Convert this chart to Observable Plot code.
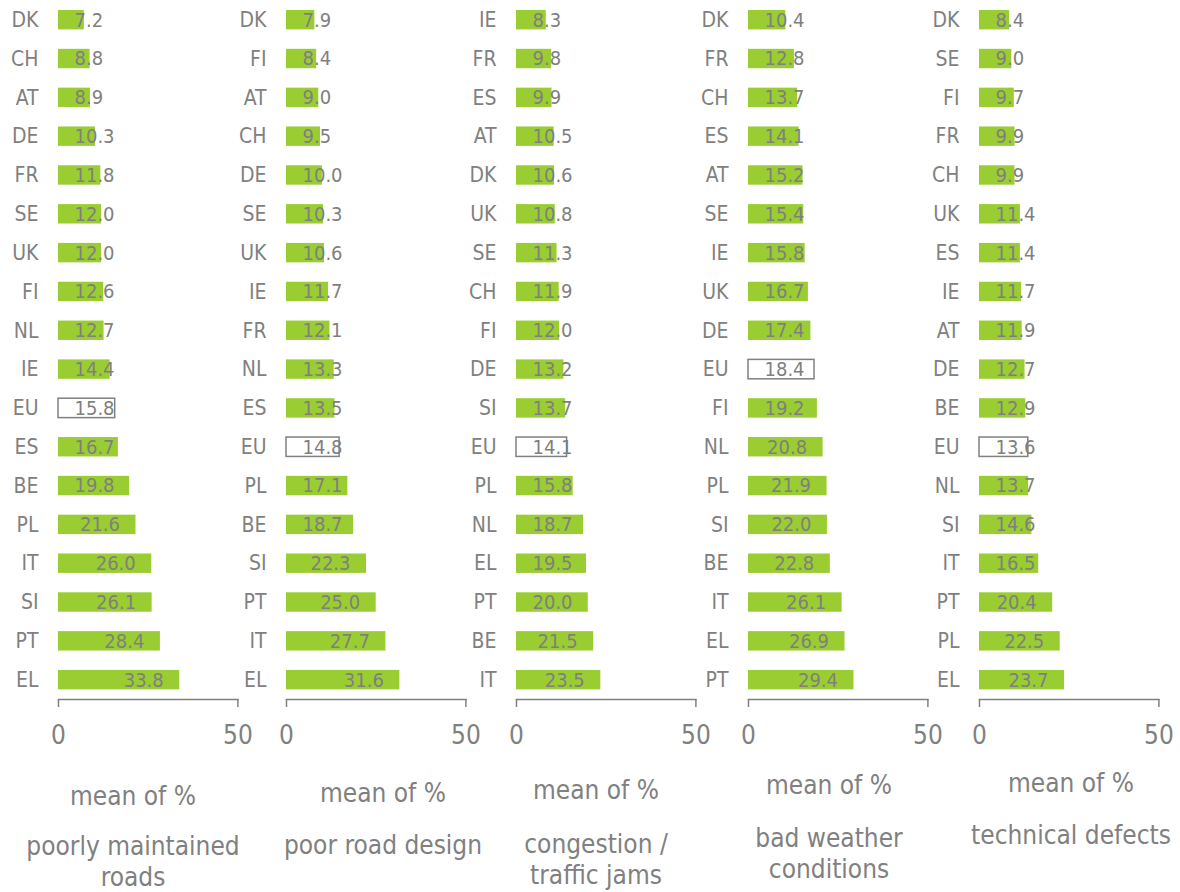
<!DOCTYPE html>
<html><head><meta charset="utf-8">
<script src="https://cdn.jsdelivr.net/npm/d3@7"></script>
<script src="https://cdn.jsdelivr.net/npm/@observablehq/plot@0.6"></script>
<style>
body{margin:0;background:#fff;}
#chart{position:relative;width:1180px;height:892px;overflow:hidden;font-family:"DejaVu Sans Condensed","DejaVu Sans",sans-serif;}
.panel{position:absolute;top:0;}
.panel svg{overflow:visible;max-width:none;}
.lab{position:absolute;transform:translateX(-50%);text-align:center;white-space:nowrap;color:#808080;font-size:26px;line-height:31px;}
</style></head><body><div id="chart"></div>
<script>
// ---- data ----
const roadsCountries  = ["DK","CH","AT","DE","FR","SE","UK","FI","NL","IE","EU","ES","BE","PL","IT","SI","PT","EL"];
const roadsValues     = [7.2,8.8,8.9,10.3,11.8,12.0,12.0,12.6,12.7,14.4,15.8,16.7,19.8,21.6,26.0,26.1,28.4,33.8];
const designCountries = ["DK","FI","AT","CH","DE","SE","UK","IE","FR","NL","ES","EU","PL","BE","SI","PT","IT","EL"];
const designValues    = [7.9,8.4,9.0,9.5,10.0,10.3,10.6,11.7,12.1,13.3,13.5,14.8,17.1,18.7,22.3,25.0,27.7,31.6];
const congCountries   = ["IE","FR","ES","AT","DK","UK","SE","CH","FI","DE","SI","EU","PL","NL","EL","PT","BE","IT"];
const congValues      = [8.3,9.8,9.9,10.5,10.6,10.8,11.3,11.9,12.0,13.2,13.7,14.1,15.8,18.7,19.5,20.0,21.5,23.5];
const weatherCountries= ["DK","FR","CH","ES","AT","SE","IE","UK","DE","EU","FI","NL","PL","SI","BE","IT","EL","PT"];
const weatherValues   = [10.4,12.8,13.7,14.1,15.2,15.4,15.8,16.7,17.4,18.4,19.2,20.8,21.9,22.0,22.8,26.1,26.9,29.4];
const techCountries   = ["DK","SE","FI","FR","CH","UK","ES","IE","AT","DE","BE","EU","NL","SI","IT","PT","PL","EL"];
const techValues      = [8.4,9.0,9.7,9.9,9.9,11.4,11.4,11.7,11.9,12.7,12.9,13.6,13.7,14.6,16.5,20.4,22.5,23.7];
const panelTitles     = [["poorly maintained","roads"],["poor road design"],["congestion /","traffic jams"],["bad weather","conditions"],["technical defects"]];
const measureLabel    = "mean of %";
const xTicks          = [0, 50];

// ---- layout ----
const panels = [
  {countries: roadsCountries,   values: roadsValues},
  {countries: designCountries,  values: designValues},
  {countries: congCountries,    values: congValues},
  {countries: weatherCountries, values: weatherValues},
  {countries: techCountries,    values: techValues}
];
const panelLeft = [0, 228, 458, 690, 921.3];
const labelCx   = [133, 383, 596, 829, 1071];
const meanTop   = [781, 778, 775, 770, 768];
const titleTop  = [831, 830, 829, 823, 820];

const ML = 58, MR = 24, RANGE = 179.4;
const k = RANGE / 50;
const GRAY = "#808080";
const GREEN = "#9ACD32";
const FONT = '"DejaVu Sans Condensed","DejaVu Sans",sans-serif';
const VAL_FS = 20;
function textW(s){ let w=0; for (const c of s) w += (c === "." ? 0.286 : 0.572) * VAL_FS; return w; }

const chart = document.getElementById("chart");
panels.forEach((p, i) => {
  const data = p.countries.map((c, j) => ({country: c, value: p.values[j], label: p.values[j].toFixed(1)}));
  const plot = Plot.plot({
    width: ML + RANGE + MR,
    height: 752,
    marginLeft: ML, marginRight: MR, marginTop: 10, marginBottom: 53,
    insetBottom: 9.6,
    x: {domain: [0, 50]},
    y: {domain: p.countries, paddingInner: 0.5, paddingOuter: 0, round: false},
    style: {fontFamily: FONT, color: GRAY, background: "transparent"},
    marks: [
      Plot.barX(data.filter(d => d.country !== "EU"), {x: "value", y: "country", fill: GREEN}),
      Plot.barX(data.filter(d => d.country === "EU"), {x: "value", y: "country", fill: "white", stroke: GRAY, strokeWidth: 1.5}),
      Plot.text(data, {
        x: d => Math.max(d.value, (32 + textW(d.label)) / k),
        y: "country", text: "label", textAnchor: "end", dx: -16,
        fontSize: VAL_FS, fill: "#7f7f7f"
      }),
      Plot.axisY({tickSize: 0, tickPadding: 20, fontSize: 21, label: null}),
      Plot.axisX({ticks: xTicks, tickSize: 8, tickPadding: 18.5, fontSize: 26, strokeWidth: 1.5, label: null}),
      Plot.frame({anchor: "bottom", strokeWidth: 1.5})
    ]
  });
  const div = document.createElement("div");
  div.className = "panel";
  div.style.left = panelLeft[i] + "px";
  div.style.width = (ML + RANGE + MR) + "px";
  div.appendChild(plot);
  chart.appendChild(div);

  const m = document.createElement("div");
  m.className = "lab";
  m.style.left = labelCx[i] + "px";
  m.style.top = meanTop[i] + "px";
  m.textContent = measureLabel;
  chart.appendChild(m);

  const t = document.createElement("div");
  t.className = "lab";
  t.style.left = labelCx[i] + "px";
  t.style.top = titleTop[i] + "px";
  t.innerHTML = panelTitles[i].join("<br>");
  chart.appendChild(t);
});
</script></body></html>
